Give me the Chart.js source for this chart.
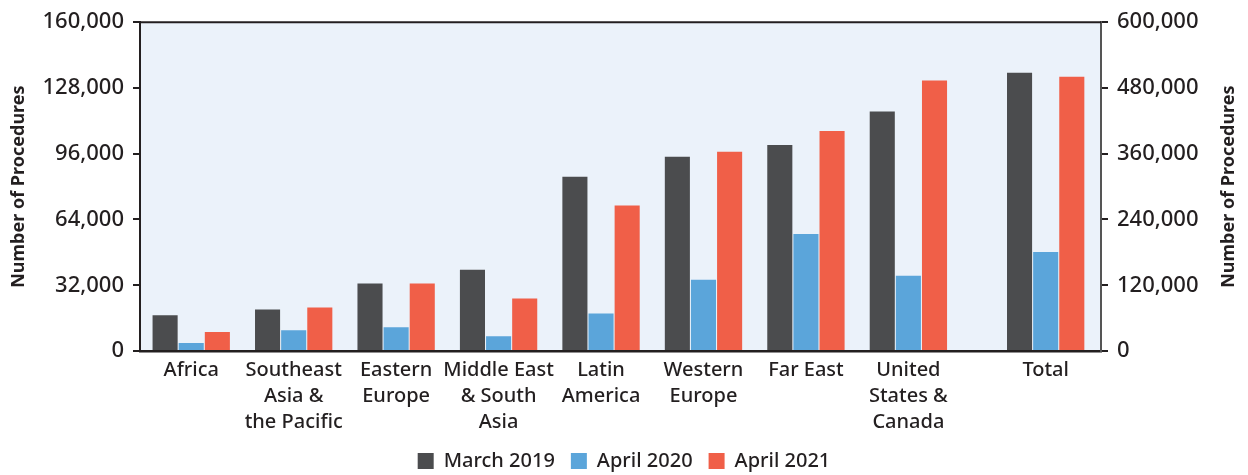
<!DOCTYPE html>
<html>
<head>
<meta charset="utf-8">
<script src="https://cdn.jsdelivr.net/npm/chart.js@4.4.1/dist/chart.umd.min.js"></script>
<style>
    html, body { margin: 0; padding: 0; background: #fff; }
    #wrap { width: 1248px; height: 475px; }
</style>
</head>
<body>
<div id="wrap"><canvas id="procedures_chart"></canvas></div>
<script>
// categories (x axis), regions first, then the total on the right axis
const regions = [
    ['Africa'],
    ['Southeast', 'Asia &', 'the Pacific'],
    ['Eastern', 'Europe'],
    ['Middle East', '& South', 'Asia'],
    ['Latin', 'America'],
    ['Western', 'Europe'],
    ['Far East'],
    ['United', 'States &', 'Canada']
];
const totalLabel = ['Total'];

const seriesNames = ['March 2019', 'April 2020', 'April 2021'];

// regional values, left axis
const march2019 = [17400, 20200, 32800, 39500, 84800, 94500, 100200, 116600];
const april2020 = [3900, 10100, 11600, 7200, 18300, 34700, 56900, 36600];
const april2021 = [9200, 21200, 32800, 25500, 70800, 96900, 107000, 131600];

// totals, right axis
const totals = [507900, 180700, 500600];

const leftTicks = [0, 32000, 64000, 96000, 128000, 160000];
const rightTicks = [0, 120000, 240000, 360000, 480000, 600000];
const axisTitle = 'Number of Procedures';

document.addEventListener("DOMContentLoaded", function () {
    const colors = ['#4b4c4e', '#5ba5da', '#f05f48'];
    const textColor = '#231f20';
    const totalGap = 0.34; // extra space before the Total group

    const categories = regions.concat([totalLabel]);
    const slots = categories.map((c, i) => i < regions.length ? i : i + totalGap);
    const regionSeries = [march2019, april2020, april2021];
    const stacks = ['m19', 'a20', 'a21'];

    Chart.defaults.font.family = "'Noto Sans', sans-serif";
    Chart.defaults.font.weight = '500';
    Chart.defaults.color = textColor;

    const datasets = [];
    regionSeries.forEach((values, s) => {
        datasets.push({
            label: seriesNames[s],
            data: values.map((v, i) => ({ x: slots[i], y: v })),
            backgroundColor: colors[s],
            stack: stacks[s],
            yAxisID: 'y'
        });
    });
    totals.forEach((v, s) => {
        datasets.push({
            label: seriesNames[s] + ' total',
            data: [{ x: slots[regions.length], y: v }],
            backgroundColor: colors[s],
            stack: stacks[s],
            yAxisID: 'y2'
        });
    });

    const plotBackground = {
        id: 'plotBackground',
        beforeDraw(chart) {
            const { ctx, chartArea } = chart;
            ctx.save();
            ctx.fillStyle = '#ebf2fa';
            ctx.fillRect(chartArea.left, chartArea.top, chartArea.right - chartArea.left, chartArea.bottom - chartArea.top);
            ctx.restore();
        },
        afterDraw(chart) {
            const { ctx, chartArea } = chart;
            ctx.save();
            ctx.strokeStyle = textColor;
            ctx.lineWidth = 2;
            ctx.beginPath();
            ctx.moveTo(chartArea.left - 1, chartArea.top);
            ctx.lineTo(chartArea.right, chartArea.top);
            ctx.stroke();
            // right axis title reads bottom to top like the left one
            const y2 = chart.scales.y2;
            ctx.translate(y2.right - 19, (chartArea.top + chartArea.bottom) / 2);
            ctx.rotate(-Math.PI / 2);
            ctx.font = "bold 18px 'Noto Sans'";
            ctx.fillStyle = textColor;
            ctx.textAlign = 'center';
            ctx.textBaseline = 'middle';
            ctx.fillText(axisTitle, 0, 0);
            ctx.restore();
        }
    };

    const ctx = document.getElementById("procedures_chart").getContext("2d");
    const chart = new Chart(ctx, {
        type: 'bar',
        data: { datasets: datasets },
        plugins: [plotBackground],
        options: {
            responsive: true,
            maintainAspectRatio: false,
            animation: false,
            categoryPercentage: 0.765,
            barPercentage: 0.96,
            layout: {
                padding: { top: 18, left: 0, right: 0, bottom: -6 }
            },
            plugins: {
                legend: {
                    position: 'bottom',
                    labels: {
                        boxWidth: 16,
                        boxHeight: 16,
                        padding: 16,
                        color: textColor,
                        font: { size: 20, weight: '500' },
                        filter: (item) => item.datasetIndex < 3
                    }
                },
                tooltip: { enabled: false }
            },
            scales: {
                x: {
                    type: 'linear',
                    offset: false,
                    min: -0.5,
                    max: 8.88,
                    grid: { display: false, drawTicks: false },
                    border: { display: true, color: textColor, width: 2.5 },
                    afterBuildTicks: (scale) => {
                        scale.ticks = slots.map(v => ({ value: v }));
                    },
                    afterFit: (scale) => { scale.height = 84; },
                    ticks: {
                        autoSkip: false,
                        maxRotation: 0,
                        padding: 6,
                        color: textColor,
                        font: { size: 20, weight: '500', lineHeight: 1.3 },
                        callback: (value, index) => categories[index]
                    }
                },
                y: {
                    position: 'left',
                    min: 0,
                    max: 160000,
                    stacked: false,
                    afterBuildTicks: (scale) => {
                        scale.ticks = leftTicks.map(v => ({ value: v }));
                    },
                    afterFit: (scale) => { scale.width = 140; },
                    grid: { drawOnChartArea: false, tickLength: 7, color: textColor, lineWidth: 2 },
                    border: { display: true, color: textColor, width: 2 },
                    title: {
                        display: true,
                        text: axisTitle,
                        color: textColor,
                        font: { size: 18, weight: 'bold' },
                        padding: { top: 8, bottom: 0 }
                    },
                    ticks: {
                        padding: 9,
                        color: textColor,
                        font: { size: 22, weight: '500' },
                        callback: (value) => value.toLocaleString('en-US')
                    }
                },
                y2: {
                    position: 'right',
                    min: 0,
                    max: 600000,
                    stacked: false,
                    afterBuildTicks: (scale) => {
                        scale.ticks = rightTicks.map(v => ({ value: v }));
                    },
                    afterFit: (scale) => { scale.width = 147; },
                    grid: { drawOnChartArea: false, tickLength: 7, color: textColor, lineWidth: 2 },
                    border: { display: true, color: '#555555', width: 2 },
                    ticks: {
                        padding: 9,
                        color: textColor,
                        font: { size: 22, weight: '500' },
                        callback: (value) => value.toLocaleString('en-US')
                    }
                }
            }
        }
    });
});
</script>
</body>
</html>
